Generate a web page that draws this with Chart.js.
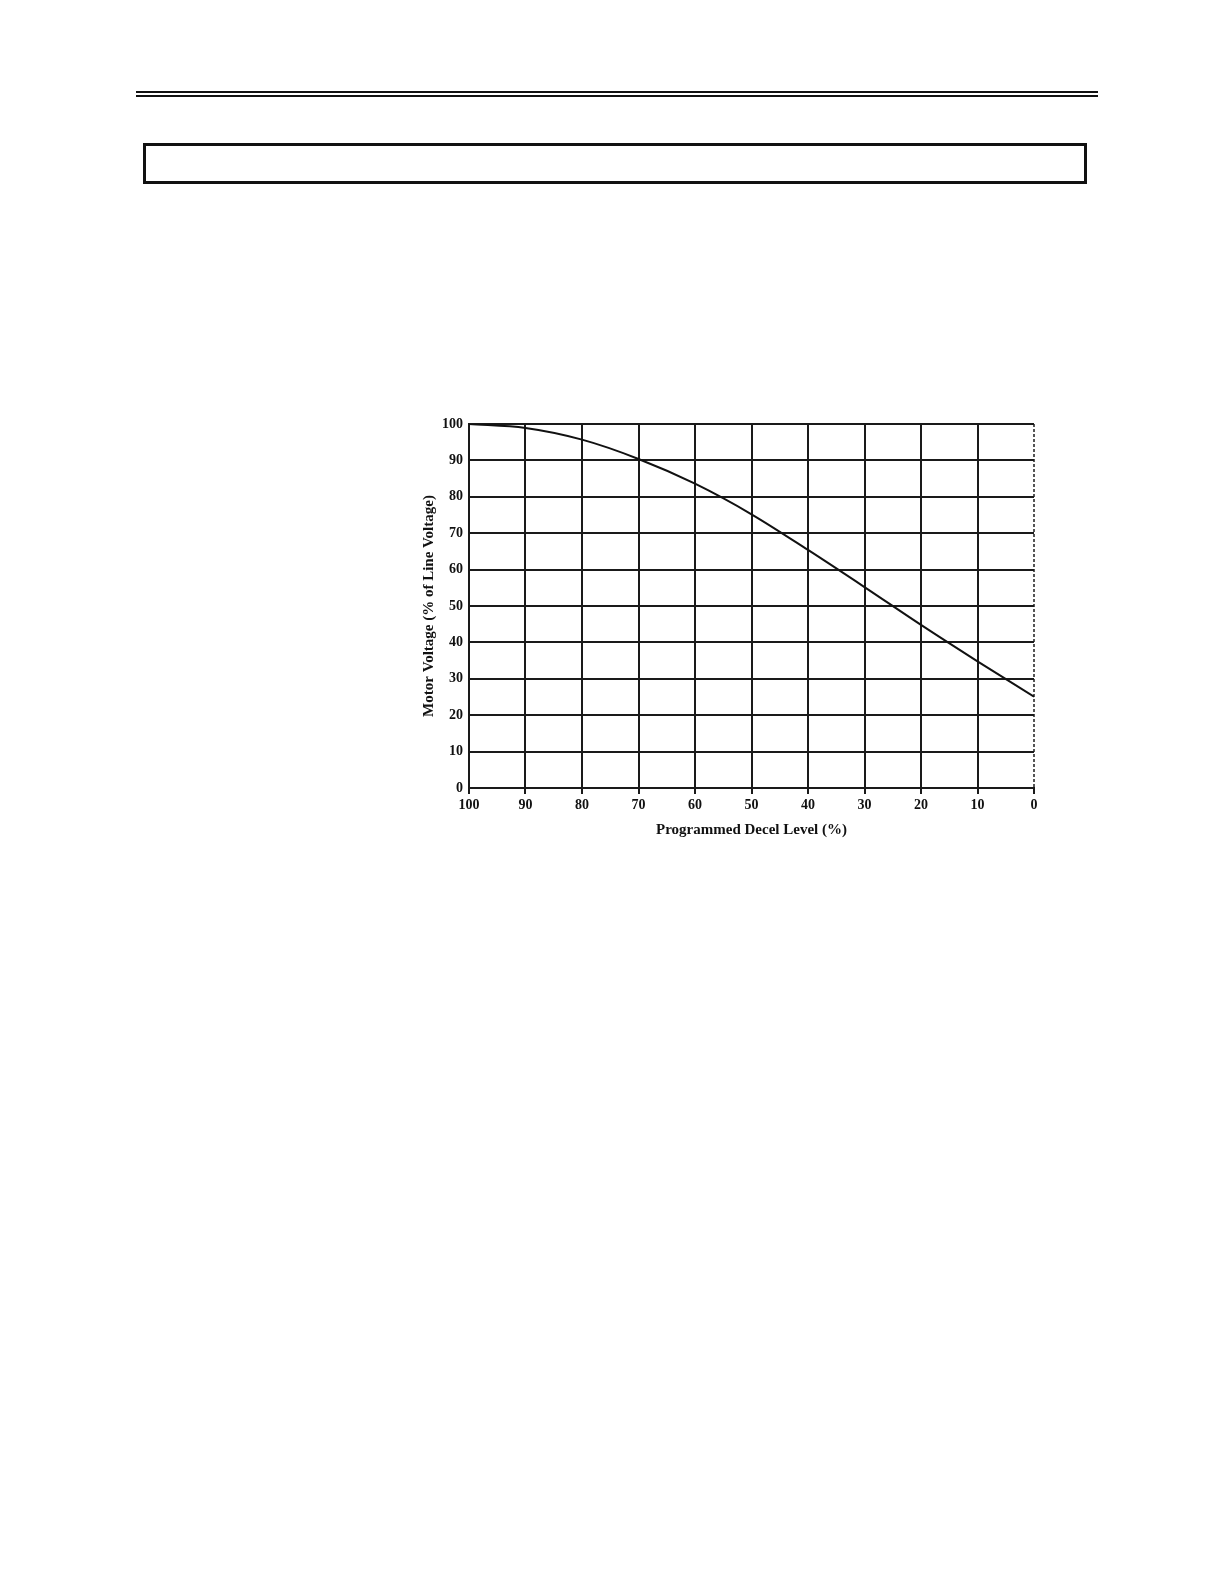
<!DOCTYPE html>
<html>
<head>
<meta charset="utf-8">
<script src="https://cdn.jsdelivr.net/npm/chart.js@4/dist/chart.umd.min.js"></script>
<style>
  html, body { margin: 0; padding: 0; background: #fff; width: 1224px; height: 1584px; overflow: hidden; }
  body { position: relative; }
  .rule { position: absolute; left: 136px; width: 962px; height: 2px; background: #111; }
  .box { position: absolute; left: 143px; top: 143px; width: 938px; height: 35px; border: 3px solid #111; }
  #wrap { position: absolute; left: 420px; top: 405px; width: 630px; height: 434px; }
</style>
</head>
<body>
<div class="rule" style="top:91px"></div>
<div class="rule" style="top:95px"></div>
<div class="box"></div>
<div id="wrap"><canvas id="c"></canvas></div>
<script>
const decelLevel = [100, 90, 80, 70, 60, 50, 40, 30, 20, 10, 0];
const motorVoltage = [100, 98.9, 95.7, 90.4, 83.6, 75.2, 65.4, 55.2, 44.8, 34.8, 25.1];
const xTitle = 'Programmed Decel Level (%)';
const yTitle = 'Motor Voltage (% of Line Voltage)';

const font = { family: '"Liberation Serif", "Times New Roman", serif', weight: 'bold', size: 14 };
const titleFont = { family: '"Liberation Serif", "Times New Roman", serif', weight: 'bold', size: 15 };

new Chart(document.getElementById('c'), {
  type: 'line',
  data: {
    datasets: [{
      data: decelLevel.map((x, i) => ({ x: x, y: motorVoltage[i] })),
      borderColor: '#111',
      borderWidth: 2,
      pointRadius: 0,
      cubicInterpolationMode: 'monotone',
      fill: false
    }]
  },
  options: {
    responsive: true,
    maintainAspectRatio: false,
    animation: false,
    layout: { padding: { top: 19, right: 16, left: 0, bottom: 0 } },
    plugins: { legend: { display: false }, tooltip: { enabled: false } },
    scales: {
      x: {
        type: 'linear',
        reverse: true,
        min: 0, max: 100,
        ticks: { stepSize: 10, color: '#111', font: font, padding: 3 },
        grid: {
          color: ctx => (ctx.tick && ctx.tick.value === 0) ? '#555' : '#1a1a1a',
          lineWidth: 2,
          tickLength: 6,
          tickColor: '#1a1a1a'
        },
        border: {
          color: '#1a1a1a', width: 2,
          dash: ctx => (ctx.tick && ctx.tick.value === 0) ? [3, 2] : []
        },
        title: { display: true, text: xTitle, color: '#111', font: titleFont, padding: { top: 4, bottom: 0 } },
        afterFit: s => { s.height = 51; }
      },
      y: {
        min: 0, max: 100,
        ticks: { stepSize: 10, color: '#111', font: font, padding: 6 },
        grid: { color: '#1a1a1a', lineWidth: 2, drawTicks: false },
        border: { color: '#1a1a1a', width: 2 },
        title: { display: true, text: yTitle, color: '#111', font: titleFont, padding: { top: 0, bottom: 2 } },
        afterFit: s => { s.width = 49; }
      }
    }
  }
});
</script>
</body>
</html>
